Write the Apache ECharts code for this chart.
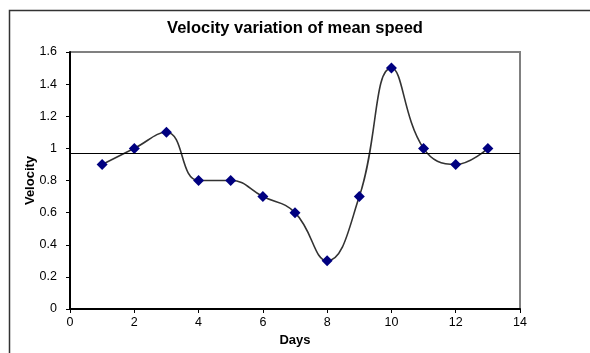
<!DOCTYPE html>
<html><head><meta charset="utf-8">
<script src="https://cdn.jsdelivr.net/npm/echarts@6/dist/echarts.min.js"></script>
<style>html,body{margin:0;padding:0;background:#fff}#c{width:590px;height:353px}</style>
</head><body><div id="c"></div>
<script>
const days = [1,2,3,4,5,6,7,8,9,10,11,12,13];
const velocity = [0.9,1.0,1.1,0.8,0.8,0.7,0.6,0.3,0.7,1.5,1.0,0.9,1.0];
const referenceLevel = 0.97;
const xTicks = [0,2,4,6,8,10,12,14];
const yTicks = [0,0.2,0.4,0.6,0.8,1,1.2,1.4,1.6];

const chart = echarts.init(document.getElementById('c'), null, {renderer:'canvas'});
const F = 'Liberation Sans, Arial, sans-serif';
chart.setOption({
  animation:false,
  backgroundColor:'#fff',
  title:{text:'Velocity variation of mean speed', left:'center', top:15,
    textStyle:{fontFamily:F,fontSize:16.5,fontWeight:'bold',color:'#000'}},
  graphic:[
    {type:'polyline', shape:{points:[[9.5,353],[9.5,10.5],[590,10.5]]}, style:{stroke:'#333',lineWidth:1.5,fill:null}},
    {type:'polyline', shape:{points:[[70,52],[520,52],[520,309]]}, style:{stroke:'#808080',lineWidth:2,fill:null}}
  ],
  grid:{left:70,right:70,top:52,bottom:44,containLabel:false},
  xAxis:{type:'value',min:0,max:14,interval:2,
    name:'Days',nameLocation:'middle',nameGap:25,nameMoveOverlap:false,
    nameTextStyle:{fontFamily:F,fontSize:13,fontWeight:'bold',color:'#000'},
    axisLine:{show:true,lineStyle:{color:'#000',width:2}},
    axisTick:{show:true,length:4,lineStyle:{color:'#000',width:1}},
    axisLabel:{fontFamily:F,fontSize:12.5,color:'#000',margin:7},
    splitLine:{show:false}},
  yAxis:{type:'value',min:0,max:1.6,interval:0.2,
    name:'Velocity',nameLocation:'middle',nameGap:33,nameRotate:90,nameMoveOverlap:false,
    nameTextStyle:{fontFamily:F,fontSize:13,fontWeight:'bold',color:'#000'},
    axisLine:{show:true,lineStyle:{color:'#000',width:2}},
    axisTick:{show:true,length:4,lineStyle:{color:'#000',width:1}},
    axisLabel:{fontFamily:F,fontSize:12.5,color:'#000',margin:13,
      formatter:v=>{const t=yTicks.find(x=>Math.abs(x-v)<1e-9);return t===undefined?'':String(t);}},
    splitLine:{show:false}},
  series:[{
    type:'line',
    data:days.map((d,i)=>[d,velocity[i]]),
    smooth:0.45,
    symbol:'diamond',symbolSize:11,
    itemStyle:{color:'#000080'},
    lineStyle:{color:'#333',width:1.6},
    markLine:{silent:true,symbol:'none',label:{show:false},
      lineStyle:{color:'#000',width:1.2,type:'solid'},
      data:[{yAxis:referenceLevel}]}
  }]
});
</script></body></html>
